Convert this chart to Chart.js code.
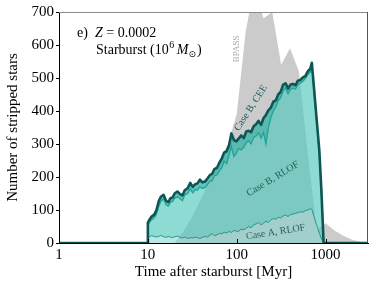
<!DOCTYPE html>
<html><head><meta charset="utf-8">
<script src="https://cdn.jsdelivr.net/npm/chart.js@4.4.0/dist/chart.umd.min.js"></script>
<style>html,body{margin:0;padding:0;background:#fff}</style>
</head><body>
<canvas id="c" width="374" height="289"></canvas>
<script>
// ---- data ----
const timeMyr = [1, 10, 10, 10.5, 11, 11.8, 12.5, 13.3, 14, 15, 16, 17, 18, 19, 20, 21.5, 23, 24.5, 26, 28, 30, 32, 34, 36, 38.5, 41, 44, 47, 50, 53, 56, 60, 64, 68, 72, 77, 82, 87, 93, 99, 105, 112, 120, 128, 136, 145, 155, 165, 176, 188, 200, 213, 227, 242, 258, 275, 293, 312, 333, 355, 378, 403, 430, 458, 488, 520, 555, 591, 630, 672, 700, 740, 790, 850, 900, 950, 3000];
// cumulative: Case A RLOF
const caseARLOF = [0, 0,
  18, 20, 22, 20, 18, 20, 23, 19, 17, 20,
  18, 16, 19, 21, 17, 15, 18, 14, 16, 15,
  18, 16, 14, 17, 20, 18, 24, 28, 22, 25,
  30, 27, 33, 30, 35, 32, 38, 36, 35, 42,
  40, 45, 50, 46, 55, 58, 62, 55, 60, 66,
  62, 70, 74, 72, 78, 76, 82, 85, 80, 86,
  88, 90, 92, 95, 93, 98, 100, 104, 102, 80,
  55, 30, 12, 0, 0];
// cumulative: Case A RLOF + Case B RLOF
const caseBRLOF = [0, 0,
  55, 64, 70, 76, 88, 112, 126, 134, 116, 112,
  124, 126, 136, 140, 134, 128, 146, 150, 164, 152,
  162, 160, 170, 166, 168, 178, 188, 188, 204, 206,
  220, 228, 248, 240, 266, 292, 262, 272, 286, 282,
  290, 304, 310, 300, 320, 324, 334, 318, 335, 300,
  350, 380, 400, 412, 432, 440, 462, 470, 452, 465,
  470, 466, 480, 484, 490, 498, 510, 518, 535, 462,
  372, 272, 142, 0, 0];
// cumulative: all (incl. Case B CEE)
const caseBCEE = [0, 0,
  62, 72, 80, 86, 100, 128, 140, 146, 128, 124,
  136, 138, 150, 156, 148, 144, 160, 166, 182, 170,
  178, 180, 192, 184, 186, 196, 206, 210, 224, 228,
  244, 256, 274, 278, 296, 332, 312, 308, 316, 326,
  318, 338, 340, 336, 354, 360, 370, 358, 378, 388,
  402, 410, 428, 432, 450, 458, 480, 484, 468, 480,
  482, 478, 492, 494, 502, 506, 520, 528, 546, 470,
  380, 280, 150, 0, 0];
const bpassTime = [20, 25.1, 31.6, 39.8, 50.1, 63.1, 79.4, 100, 126, 158, 200, 251, 316, 398, 501, 631, 794, 1000, 1259, 1585, 1995, 2512, 3162];
const bpassCount = [0, 35, 80, 135, 190, 245, 300, 390, 640, 780, 680, 700, 540, 590, 520, 270, 40, 60, 38, 22, 10, 3, 0];
const xTickValues = [1, 10, 100, 1000];
const yTickValues = [0, 100, 200, 300, 400, 500, 600, 700];

const pts = (xs, ys) => xs.map((x, i) => ({x: x, y: ys[i]}));
const SERIF = '"Liberation Serif", "DejaVu Serif", serif';

const overlay = {
  id: 'overlay',
  afterDraw(chart) {
    const {ctx, chartArea: a, scales: {x, y}} = chart;
    ctx.save();
    ctx.lineWidth = 1;
    ctx.strokeStyle = '#8c8c8c';
    ctx.beginPath(); ctx.moveTo(a.left, a.top + 0.5); ctx.lineTo(a.right, a.top + 0.5); ctx.stroke();
    ctx.strokeStyle = '#555';
    ctx.beginPath(); ctx.moveTo(a.right - 0.5, a.top); ctx.lineTo(a.right - 0.5, a.bottom); ctx.stroke();
    ctx.strokeStyle = '#000';
    xTickValues.forEach(v => {
      const px = Math.round(x.getPixelForValue(v)) + 0.5;
      ctx.beginPath(); ctx.moveTo(px, a.bottom); ctx.lineTo(px, a.bottom - 4); ctx.stroke();
    });
    // panel text
    ctx.fillStyle = '#000';
    ctx.textBaseline = 'alphabetic';
    ctx.textAlign = 'left';
    ctx.font = '14px ' + SERIF;
    ctx.fillText('e)', 77, 37);
    let cx = 95;
    ctx.font = 'italic 14px ' + SERIF;
    ctx.fillText('Z', cx, 37); cx += ctx.measureText('Z').width;
    ctx.font = '14px ' + SERIF;
    ctx.fillText(' = 0.0002', cx, 37);
    cx = 96;
    const s1 = 'Starburst (10';
    ctx.fillText(s1, cx, 54); cx += ctx.measureText(s1).width;
    ctx.font = '10px ' + SERIF;
    ctx.fillText('6', cx + 0.5, 48); cx += ctx.measureText('6').width + 3;
    ctx.font = 'italic 14px ' + SERIF;
    ctx.fillText('M', cx, 54); cx += ctx.measureText('M').width;
    ctx.font = '9px "DejaVu Sans", sans-serif';
    ctx.fillText('\u2299', cx, 57); cx += ctx.measureText('\u2299').width + 1;
    ctx.font = '14px ' + SERIF;
    ctx.fillText(')', cx, 54);
    // rotated labels
    const lab = (txt, t, v, ang, col, size) => {
      ctx.save();
      ctx.translate(x.getPixelForValue(t), y.getPixelForValue(v));
      ctx.rotate(ang * Math.PI / 180);
      ctx.font = size + 'px ' + SERIF;
      ctx.fillStyle = col;
      ctx.textAlign = 'center';
      ctx.textBaseline = 'middle';
      ctx.fillText(txt, 0, 0);
      ctx.restore();
    };
    lab('BPASS', 100, 588, -90, '#a9a9a9', 9);
    lab('Case B, CEE', 144, 409, -57, '#1d5c59', 10);
    lab('Case B, RLOF', 254, 194, -31, '#265f5c', 10);
    lab('Case A, RLOF', 274, 33, -9, '#265f5c', 10);
    ctx.restore();
  }
};

new Chart(document.getElementById('c'), {
  type: 'line',
  data: {
    datasets: [
      {label: 'BPASS', data: pts(bpassTime, bpassCount), borderWidth: 0, borderColor: 'rgba(0,0,0,0)',
       backgroundColor: '#cbcbcb', fill: 'origin', pointRadius: 0, tension: 0, order: 4},
      {label: 'Case A, RLOF', data: pts(timeMyr, caseARLOF), borderWidth: 1, borderColor: '#23968c',
       backgroundColor: 'rgba(130,212,204,0.55)', fill: 'origin', pointRadius: 0, tension: 0, order: 3},
      {label: 'Case B, RLOF', data: pts(timeMyr, caseBRLOF), borderWidth: 1.3, borderColor: '#1fa398',
       backgroundColor: 'rgba(80,200,188,0.65)', fill: 1, pointRadius: 0, tension: 0, order: 2},
      {label: 'Case B, CEE', data: pts(timeMyr, caseBCEE), borderWidth: 2.6, borderColor: '#0d5654',
       backgroundColor: 'rgba(60,180,168,0.8)', fill: 2, pointRadius: 0, tension: 0, order: 1,
       borderJoinStyle: 'round'}
    ]
  },
  options: {
    responsive: false, animation: false, devicePixelRatio: 1,
    layout: {padding: {top: 12, right: 6, left: 0, bottom: 0}},
    plugins: {legend: {display: false}, tooltip: {enabled: false},
              filler: {drawTime: 'beforeDatasetsDraw'}},
    scales: {
      x: {type: 'logarithmic', min: 1, max: 3000,
          afterBuildTicks: s => { s.ticks = xTickValues.map(v => ({value: v})); },
          afterFit: s => { s.height = 46; },
          ticks: {callback: v => String(v), color: '#000', font: {family: SERIF, size: 15},
                  maxRotation: 0, autoSkip: false, padding: 3},
          grid: {display: true, drawOnChartArea: false, drawTicks: false},
          border: {display: true, color: '#000', width: 1},
          title: {display: true, text: 'Time after starburst [Myr]', color: '#000',
                  font: {family: SERIF, size: 15}, padding: {top: 0, bottom: 8}}},
      y: {type: 'linear', min: 0, max: 700,
          afterBuildTicks: s => { s.ticks = yTickValues.map(v => ({value: v})); },
          afterFit: s => { s.width = 59; },
          ticks: {color: '#000', font: {family: SERIF, size: 15}, padding: 2},
          grid: {display: true, drawOnChartArea: false, drawTicks: true, tickLength: 3, tickColor: '#000'},
          border: {display: true, color: '#000', width: 1},
          title: {display: true, text: 'Number of stripped stars', color: '#000',
                  font: {family: SERIF, size: 15}, padding: {top: 4, bottom: 0}}}
    }
  },
  plugins: [overlay]
});
</script>
</body></html>
